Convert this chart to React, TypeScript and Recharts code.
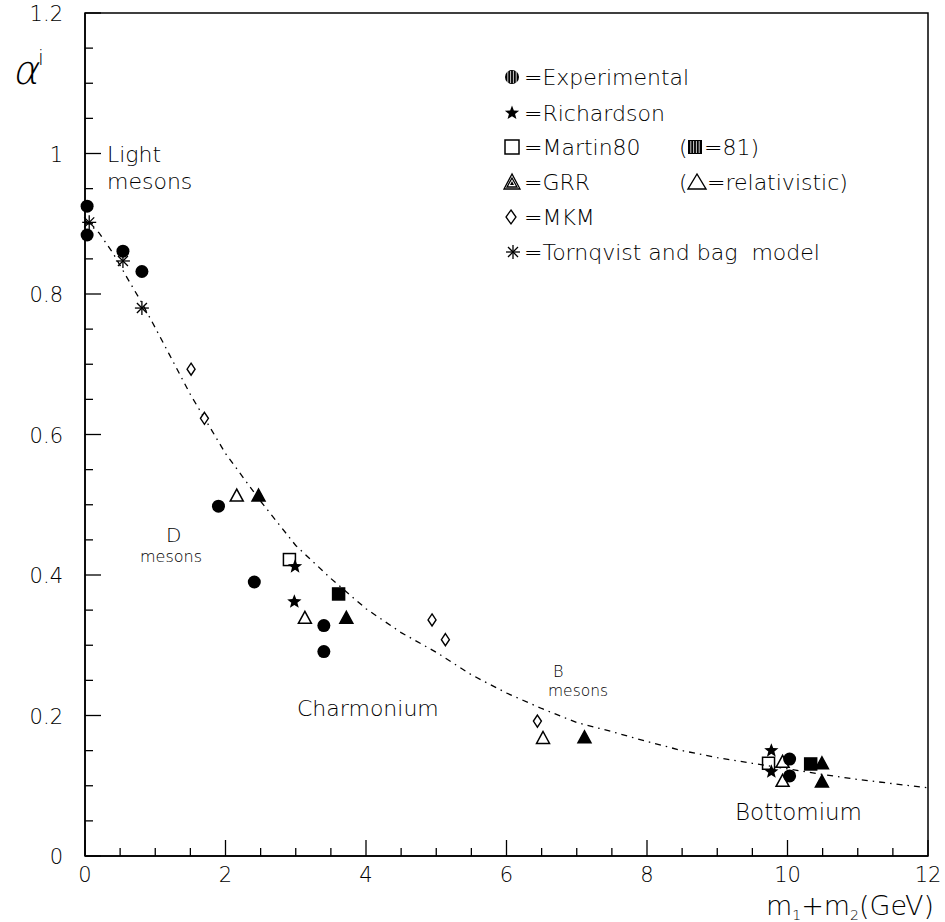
import React from 'react';
import { ComposedChart, Scatter, XAxis, YAxis, ReferenceArea, Customized } from 'recharts';

// points, x = m1+m2 (GeV), y = alpha
const experimental = [
  { x: 0.03, y: 0.925 }, { x: 0.03, y: 0.884 }, { x: 0.54, y: 0.861 }, { x: 0.81, y: 0.832 },
  { x: 1.9, y: 0.498 }, { x: 2.41, y: 0.39 }, { x: 3.4, y: 0.328 }, { x: 3.4, y: 0.291 },
  { x: 10.03, y: 0.138 }, { x: 10.03, y: 0.114 },
];
const richardson = [{ x: 2.99, y: 0.412 }, { x: 2.98, y: 0.362 }, { x: 9.77, y: 0.15 }, { x: 9.77, y: 0.12 }];
const martin80 = [{ x: 2.91, y: 0.422 }, { x: 9.73, y: 0.132 }];
const martin81 = [{ x: 3.61, y: 0.373 }, { x: 10.33, y: 0.131 }];
const grr = [{ x: 2.47, y: 0.513 }, { x: 3.72, y: 0.339 }, { x: 7.11, y: 0.169 }, { x: 10.49, y: 0.132 }, { x: 10.49, y: 0.106 }];
const grrRel = [{ x: 2.16, y: 0.513 }, { x: 3.13, y: 0.339 }, { x: 6.52, y: 0.168 }, { x: 9.93, y: 0.134 }, { x: 9.93, y: 0.107 }];
const mkm = [{ x: 1.51, y: 0.693 }, { x: 1.7, y: 0.623 }, { x: 4.94, y: 0.336 }, { x: 5.13, y: 0.308 }, { x: 6.44, y: 0.192 }];
const tornqvist = [{ x: 0.06, y: 0.902 }, { x: 0.54, y: 0.847 }, { x: 0.81, y: 0.78 }];

const curveX = [0, 0.2, 0.4, 0.6, 0.8, 1, 1.2, 1.5, 2, 2.5, 3, 3.5, 4, 4.5, 5, 5.5, 6, 6.5, 7, 7.5, 8, 8.5, 9, 9.5, 10, 10.5, 11, 11.5, 12];
const curveY = [0.905, 0.887, 0.858, 0.823, 0.789, 0.752, 0.714, 0.657, 0.573, 0.505, 0.442, 0.395, 0.352, 0.318, 0.29, 0.258, 0.232, 0.21, 0.19, 0.177, 0.163, 0.15, 0.14, 0.132, 0.124, 0.116, 0.109, 0.103, 0.097];
const curve = curveX.map((x, i) => ({ x, y: curveY[i] }));

const xTicks = Array.from({ length: 25 }, (_, i) => i * 0.5);
const yTicks = Array.from({ length: 25 }, (_, i) => Math.round(i * 5) / 100);

const FONT = '"DejaVu Sans", sans-serif';
const W = 200;

const Circle = ({ cx, cy }: any) => <circle cx={cx} cy={cy} r={6.5} fill="#000" />;
const Square = ({ cx, cy, filled }: any) => (
  <rect x={cx - 6} y={cy - 6} width={12} height={12} fill={filled ? '#000' : 'none'} stroke="#000" strokeWidth={1.5} />
);
const Tri = ({ cx, cy, filled }: any) => (
  <polygon points={`${cx},${cy - 6.5} ${cx - 6.5},${cy + 5.5} ${cx + 6.5},${cy + 5.5}`} fill={filled ? '#000' : '#fff'} stroke="#000" strokeWidth={1.5} />
);
const starPts = (cx: number, cy: number, ro: number, ri: number) =>
  Array.from({ length: 10 }, (_, i) => {
    const r = i % 2 ? ri : ro;
    const a = -Math.PI / 2 + (i * Math.PI) / 5;
    return `${cx + r * Math.cos(a)},${cy + r * Math.sin(a)}`;
  }).join(' ');
const Star = ({ cx, cy }: any) => <polygon points={starPts(cx, cy, 7.5, 3.2)} fill="#000" />;
const Diamond = ({ cx, cy }: any) => (
  <polygon points={`${cx},${cy - 6} ${cx + 4},${cy} ${cx},${cy + 6} ${cx - 4},${cy}`} fill="#fff" stroke="#000" strokeWidth={1.4} />
);
const Asterisk = ({ cx, cy }: any) => (
  <g stroke="#000" strokeWidth={1.3}>
    <line x1={cx - 7} y1={cy} x2={cx + 7} y2={cy} />
    <line x1={cx} y1={cy - 7} x2={cx} y2={cy + 7} />
    <line x1={cx - 5} y1={cy - 5} x2={cx + 5} y2={cy + 5} />
    <line x1={cx - 5} y1={cy + 5} x2={cx + 5} y2={cy - 5} />
  </g>
);

const XTick = ({ x, y, payload }: any) => {
  const v = payload.value;
  const major = Math.abs(v % 2) < 1e-6;
  return (
    <g>
      <line x1={x} y1={y} x2={x} y2={y - (major ? 16 : 8)} stroke="#000" strokeWidth={1.3} />
      {major && (
        <text x={x} y={y + 26} textAnchor="middle" fontFamily={FONT} fontWeight={W} fontSize={21} fill="#000">
          {v}
        </text>
      )}
    </g>
  );
};

const YTick = ({ x, y, payload }: any) => {
  const v = payload.value;
  const major = Math.abs((v * 100) % 20) < 1e-6 || Math.abs((v * 100) % 20 - 20) < 1e-6;
  return (
    <g>
      <line x1={x} y1={y} x2={x + (major ? 16 : 8)} y2={y} stroke="#000" strokeWidth={1.3} />
      {major && (
        <text x={x - 22} y={y + 8} textAnchor="end" fontFamily={FONT} fontWeight={W} fontSize={21} fill="#000">
          {v}
        </text>
      )}
    </g>
  );
};

const legendRows = [
  { y: 77, text: '=Experimental' },
  { y: 113, text: '=Richardson' },
  { y: 147, text: '=Martin80' },
  { y: 182, text: '=GRR' },
  { y: 217, text: '=MKM' },
  { y: 252, text: '=Tornqvist and bag  model' },
];

const stripes = (x0: number, x1: number, y0: number, y1: number) =>
  [0, 1, 2, 3].map((i) => {
    const sx = x0 + ((x1 - x0) * (i + 1)) / 5;
    return <line key={i} x1={sx} y1={y0} x2={sx} y2={y1} stroke="#fff" strokeWidth={0.8} />;
  });

const Annotations = () => {
  const lx = 512;
  const t = { fontFamily: FONT, fontWeight: W, fontSize: 22, fill: '#000' } as const;
  const small = { fontFamily: FONT, fontWeight: W, fill: '#000' } as const;
  return (
    <g>
      {/* legend markers */}
      <circle cx={lx} cy={legendRows[0].y} r={7} fill="#000" />
      {stripes(lx - 7, lx + 7, legendRows[0].y - 6, legendRows[0].y + 6)}
      <Star cx={lx} cy={legendRows[1].y} />
      <rect x={lx - 7} y={legendRows[2].y - 7} width={14} height={14} fill="none" stroke="#000" strokeWidth={1.5} />
      <polygon points={`${lx},${legendRows[3].y - 8} ${lx - 8},${legendRows[3].y + 7} ${lx + 8},${legendRows[3].y + 7}`} fill="none" stroke="#000" strokeWidth={1.3} />
      <polygon points={`${lx},${legendRows[3].y - 4} ${lx - 5},${legendRows[3].y + 5} ${lx + 5},${legendRows[3].y + 5}`} fill="none" stroke="#000" strokeWidth={1.3} />
      <polygon points={`${lx},${legendRows[3].y - 1} ${lx - 2},${legendRows[3].y + 3} ${lx + 2},${legendRows[3].y + 3}`} fill="#000" />
      <polygon points={`${lx - 1},${legendRows[4].y - 7} ${lx + 4},${legendRows[4].y} ${lx - 1},${legendRows[4].y + 7} ${lx - 6},${legendRows[4].y}`} fill="none" stroke="#000" strokeWidth={1.3} />
      <Asterisk cx={lx + 1} cy={legendRows[5].y} />
      {legendRows.map((r) => (
        <text key={r.text} x={524} y={r.y + 8} {...t} style={{ whiteSpace: 'pre' }}>
          {r.text}
        </text>
      ))}
      {/* (■=81) */}
      <text x={679} y={legendRows[2].y + 8} {...t}>(</text>
      <rect x={688} y={legendRows[2].y - 7} width={14} height={14} fill="#000" />
      {stripes(688, 702, legendRows[2].y - 6, legendRows[2].y + 6)}
      <text x={704} y={legendRows[2].y + 8} {...t}>=81)</text>
      {/* (△=relativistic) */}
      <text x={679} y={legendRows[3].y + 8} {...t}>(</text>
      <polygon points={`697,${legendRows[3].y - 8} 688,${legendRows[3].y + 7} 706,${legendRows[3].y + 7}`} fill="none" stroke="#000" strokeWidth={1.4} />
      <text x={707} y={legendRows[3].y + 8} {...t}>=relativistic)</text>

      {/* region labels */}
      <text x={107} y={162} {...t}>Light</text>
      <text x={107} y={189} {...t}>mesons</text>
      <text x={166} y={542} {...small} fontSize={20}>D</text>
      <text x={140} y={562} {...small} fontSize={16}>mesons</text>
      <text x={553} y={677} {...small} fontSize={16}>B</text>
      <text x={548} y={696} {...small} fontSize={15.5}>mesons</text>
      <text x={297} y={716} {...t}>Charmonium</text>
      <text x={735} y={820} {...t} fontSize={23}>Bottomium</text>

      {/* axis titles */}
      <text x={0} y={0} transform="translate(12,84) skewX(-12)" fontFamily={FONT} fontWeight={W} fontSize={40} fill="#000">α</text>
      <text x={38} y={65} fontFamily={FONT} fontWeight={W} fontSize={21} fill="#000">i</text>
      <text x={934} y={915} textAnchor="end" fontFamily={FONT} fontWeight={W} fontSize={27} fill="#000">
        m<tspan fontSize={14} dy={5}>1</tspan>
        <tspan dy={-5}>+m</tspan>
        <tspan fontSize={14} dy={5}>2</tspan>
        <tspan dy={-5}>(GeV)</tspan>
      </text>
    </g>
  );
};

export default function App() {
  return (
    <div style={{ position: 'absolute', left: 0, top: 0, background: '#fff' }}>
      <ComposedChart width={945} height={922} margin={{ top: 13, right: 17, bottom: 36, left: 25 }}>
        <XAxis
          type="number"
          dataKey="x"
          domain={[0, 12]}
          ticks={xTicks}
          interval={0}
          tickSize={0}
          tickMargin={0}
          tick={<XTick />}
          axisLine={{ stroke: '#000', strokeWidth: 1.5 }}
          height={30}
        />
        <YAxis
          type="number"
          dataKey="y"
          domain={[0, 1.2]}
          ticks={yTicks}
          interval={0}
          tickSize={0}
          tickMargin={0}
          tick={<YTick />}
          axisLine={{ stroke: '#000', strokeWidth: 1.5 }}
          width={60}
        />
        <ReferenceArea x1={0} x2={12} y1={0} y2={1.2} fill="none" stroke="#000" strokeWidth={1.5} ifOverflow="visible" />
        <Scatter
          data={curve}
          line={{ stroke: '#000', strokeWidth: 1.3, strokeDasharray: '6 5 1.5 5' }}
          shape={() => <g />}
          isAnimationActive={false}
        />
        <Scatter data={grrRel} shape={(p: any) => <Tri {...p} />} isAnimationActive={false} />
        <Scatter data={experimental} shape={(p: any) => <Circle {...p} />} isAnimationActive={false} />
        <Scatter data={martin80} shape={(p: any) => <Square {...p} />} isAnimationActive={false} />
        <Scatter data={martin81} shape={(p: any) => <Square {...p} filled />} isAnimationActive={false} />
        <Scatter data={grr} shape={(p: any) => <Tri {...p} filled />} isAnimationActive={false} />
        <Scatter data={richardson} shape={(p: any) => <Star {...p} />} isAnimationActive={false} />
        <Scatter data={mkm} shape={(p: any) => <Diamond {...p} />} isAnimationActive={false} />
        <Scatter data={tornqvist} shape={(p: any) => <Asterisk {...p} />} isAnimationActive={false} />
        <Customized component={Annotations} />
      </ComposedChart>
    </div>
  );
}
